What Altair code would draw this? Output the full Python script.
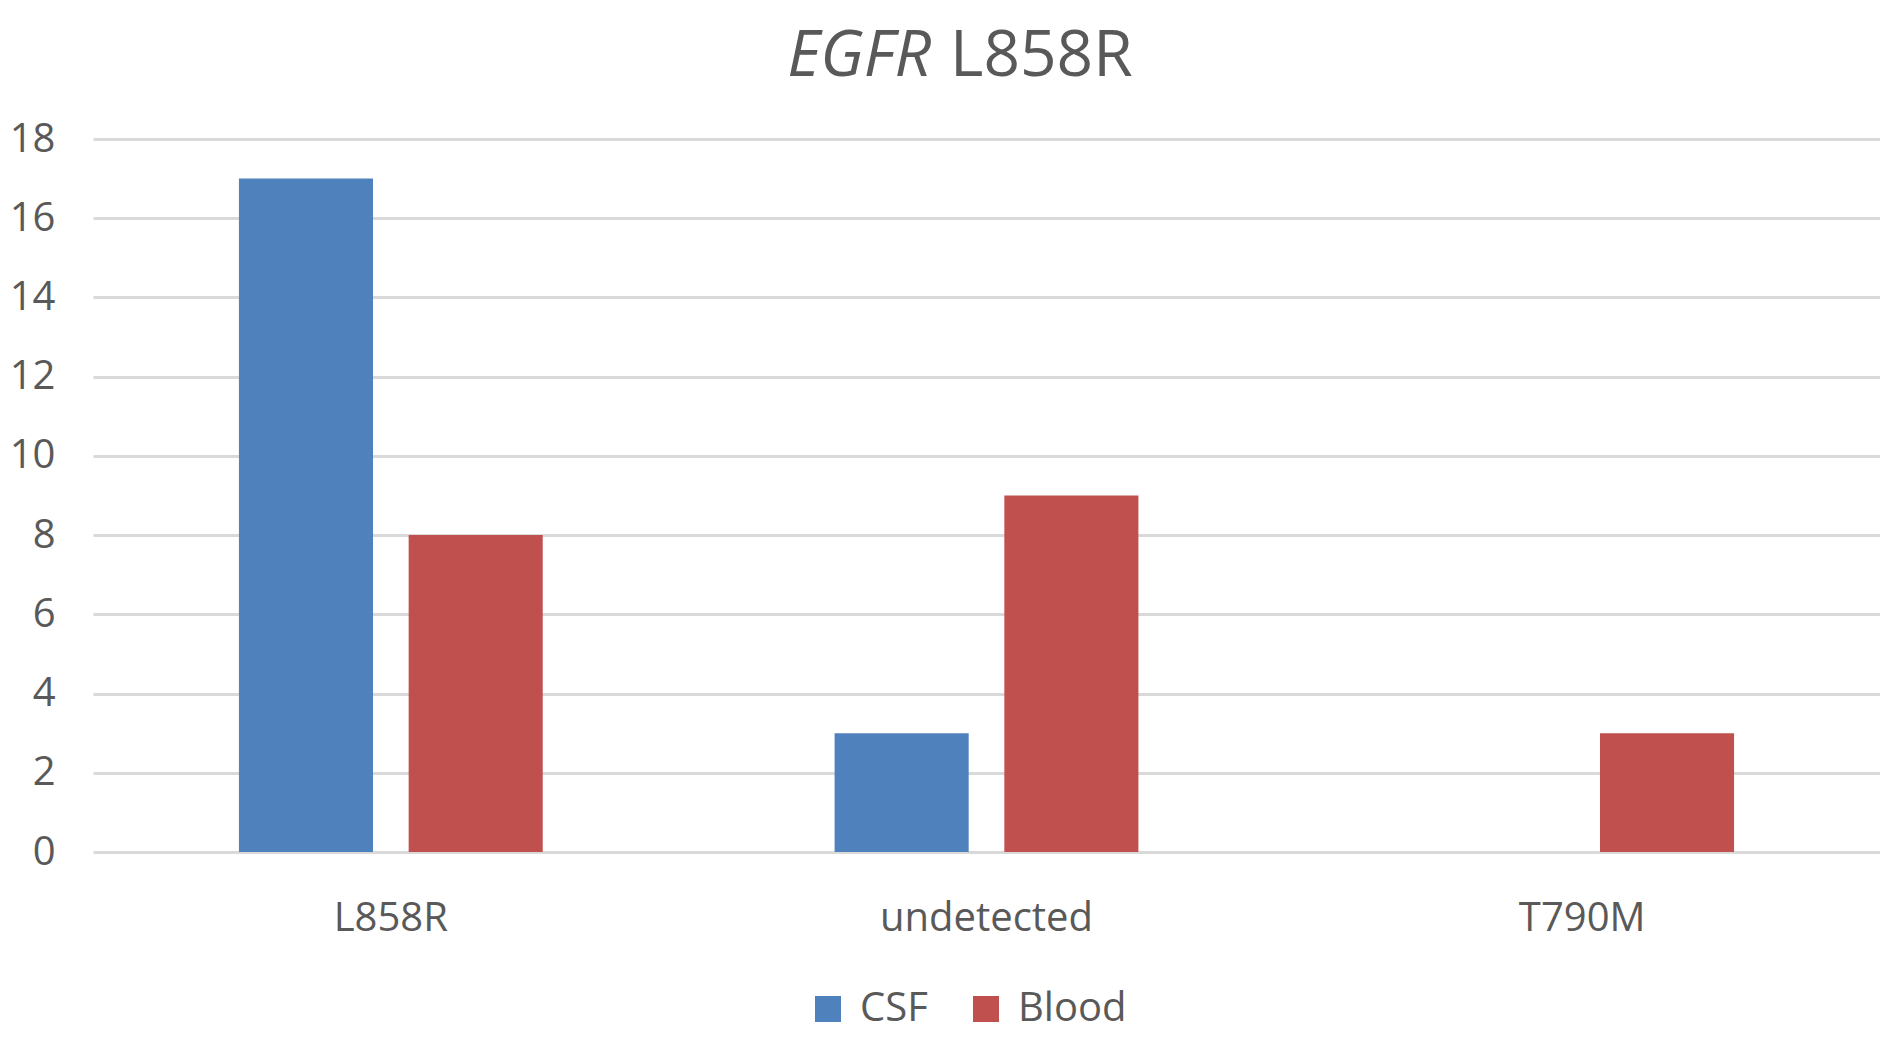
import altair as alt
import pandas as pd

categories = ["L858R", "undetected", "T790M"]
csf_values = [17, 3, 0]
blood_values = [8, 9, 3]
series_names = ["CSF", "Blood"]
series_colors = ["#4F81BD", "#C0504D"]
title_parts = ["EGFR", "L858R"]
y_ticks = [0, 2, 4, 6, 8, 10, 12, 14, 16, 18]

rows = []
for c, a, b in zip(categories, csf_values, blood_values):
    rows.append({"category": c, "series": "CSF", "value": a})
    rows.append({"category": c, "series": "Blood", "value": b})
df = pd.DataFrame(rows)

FONT = "Open Sans"
TEXT = "#595959"

bars = alt.Chart(df).mark_bar().encode(
    x=alt.X("category:N", sort=categories,
            scale=alt.Scale(paddingInner=0.49, paddingOuter=0.245),
            axis=alt.Axis(title=None, labelAngle=0, labelFontSize=40, labelFont=FONT,
                          labelColor=TEXT, labelPadding=46, labelLimit=0, ticks=False,
                          domain=False, grid=False)),
    xOffset=alt.XOffset("series:N", sort=series_names,
                        scale=alt.Scale(paddingInner=0.21, paddingOuter=0)),
    y=alt.Y("value:Q", scale=alt.Scale(domain=[0, 18]),
            axis=alt.Axis(title=None, values=y_ticks, labelFontSize=40, labelFont=FONT,
                          labelColor=TEXT, labelPadding=38, ticks=False, domain=False,
                          gridColor="#D9D9D9", gridWidth=3)),
    color=alt.Color("series:N", sort=series_names,
                    scale=alt.Scale(domain=series_names, range=series_colors),
                    legend=alt.Legend(title=None, orient="none", direction="horizontal",
                                      legendX=715, legendY=850,
                                      symbolType="square", symbolSize=676,
                                      symbolStrokeWidth=0, labelFontSize=40,
                                      labelFont=FONT, labelColor=TEXT,
                                      labelOffset=12, columnPadding=38)),
)

tdf = pd.DataFrame({"part": title_parts})
t1 = alt.Chart(tdf).transform_filter(alt.datum.part == title_parts[0]).mark_text(
    font=FONT, fontSize=64, fontStyle="italic", color=TEXT, align="right", baseline="middle"
).encode(text="part:N", x=alt.value(838), y=alt.value(-82))
t2 = alt.Chart(tdf).transform_filter(alt.datum.part == title_parts[1]).mark_text(
    font=FONT, fontSize=64, color=TEXT, align="left", baseline="middle"
).encode(text="part:N", x=alt.value(857), y=alt.value(-82))

chart = alt.layer(bars, t1, t2).properties(
    width=1787, height=713,
    autosize=alt.AutoSizeParams(type="none"),
    padding={"left": 85, "top": 131, "right": 0, "bottom": 180},
).configure_view(stroke=None)

chart.save("out.html", embed_options={"renderer": "svg", "actions": False})
